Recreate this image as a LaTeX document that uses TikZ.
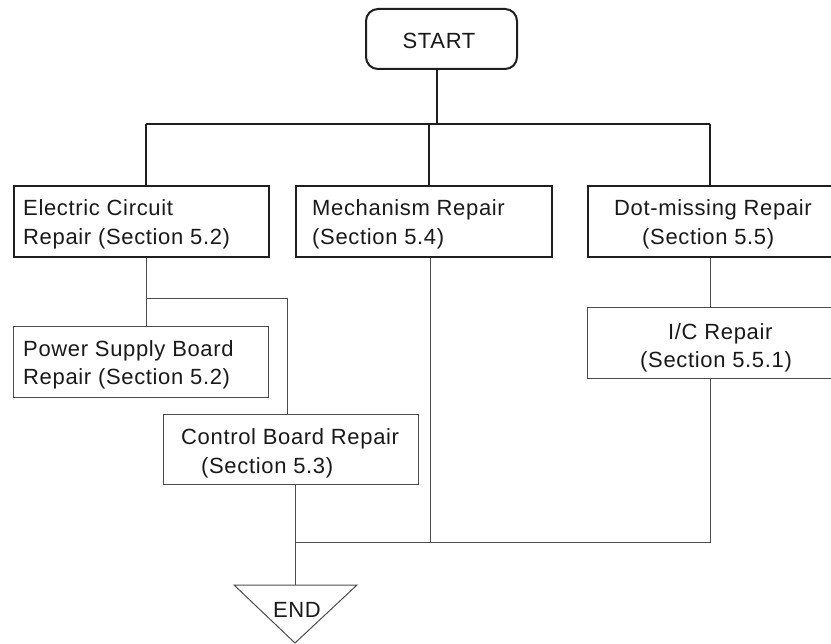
\documentclass[tikz,border=0pt]{standalone}
\usepackage{fontspec}
\setmainfont{Liberation Sans}[LetterSpace=3]
\begin{document}
\begin{tikzpicture}[x=1pt,y=-1pt,
  thickbox/.style={draw=black!88,line width=2pt,inner sep=0pt,anchor=north west},
  thinbox/.style={draw=black!70,line width=1pt,inner sep=0pt,anchor=north west},
  thickline/.style={draw=black!88,line width=2pt},
  thinline/.style={draw=black!70,line width=1pt},
  txt/.style={inner sep=0pt,anchor=base west,text=black!90,font=\fontsize{22}{29}\selectfont},
  ctxt/.style={inner sep=0pt,anchor=base,text=black!90,font=\fontsize{22}{29}\selectfont}]
\useasboundingbox (0,0) rectangle (831,644);
\clip (0,0) rectangle (831,644);
% START
\node[draw=black!88,line width=2pt,rounded corners=12pt,minimum width=151pt,minimum height=60pt,inner sep=0pt] (start) at (441.5,39) {};
\node[ctxt] (starttxt) at (439,49) {START};
% top boxes
\node[thickbox,minimum width=255pt,minimum height=71pt] (ec) at (13,185) {};
\node[thickbox,minimum width=256pt,minimum height=71pt] (mr) at (295,185) {};
\node[thickbox,minimum width=263pt,minimum height=71pt] (dm) at (587,185) {};
\node[txt] (ec1) at (23,216) {Electric Circuit};
\node[txt] (ec2) at (23,245) {Repair (Section 5.2)};
\node[txt] (mr1) at (312,216) {Mechanism Repair};
\node[txt] (mr2) at (312,245) {(Section 5.4)};
\node[txt] (dm1) at (614,216) {Dot-missing Repair};
\node[txt] (dm2) at (642,245) {(Section 5.5)};
% lower boxes
\node[thinbox,minimum width=255pt,minimum height=71pt] (ps) at (13,326) {};
\node[thinbox,minimum width=255pt,minimum height=70pt] (cb) at (163,414) {};
\node[thinbox,minimum width=263pt,minimum height=71pt] (ic) at (587,307) {};
\node[txt] (ps1) at (23,357) {Power Supply Board};
\node[txt] (ps2) at (23,385) {Repair (Section 5.2)};
\node[txt] (cb1) at (181,445) {Control Board Repair};
\node[txt] (cb2) at (201,474) {(Section 5.3)};
\node[txt] (ic1) at (668,340) {I/C Repair};
\node[txt] (ic2) at (640,368) {(Section 5.5.1)};
% END
\coordinate (endtop) at (295,585);
\draw[thinline] (234,585) -- (357,585) -- (295,643) -- cycle;
\node[ctxt] (endtxt) at (297,617) {END};
% thick connectors
\coordinate (bus) at (437,124);
\coordinate (busL) at (146,124);
\coordinate (busM) at (429,124);
\coordinate (busR) at (710,124);
\draw[thickline] (start.south -| bus) -- (bus);
\draw[thickline] (busL) -- (busR);
\draw[thickline] (busL) -- (busL |- ec.north);
\draw[thickline] (busM) -- (busM |- mr.north);
\draw[thickline] (busR) -- (busR |- dm.north);
% thin connectors
\coordinate (j1) at (146,299);
\coordinate (j2) at (287,299);
\draw[thinline] (j1 |- ec.south) -- (j1 |- ps.north);
\draw[thinline] (j1) -- (j2) -- (j2 |- cb.north);
\coordinate (m) at (430,543);
\coordinate (r) at (710,543);
\coordinate (l) at (295,543);
\draw[thinline] (m |- mr.south) -- (m);
\draw[thinline] (r |- dm.south) -- (r |- ic.north);
\draw[thinline] (r |- ic.south) -- (r);
\draw[thinline] (l) -- (r);
\draw[thinline] (l |- cb.south) -- (endtop);
\end{tikzpicture}
\end{document}
